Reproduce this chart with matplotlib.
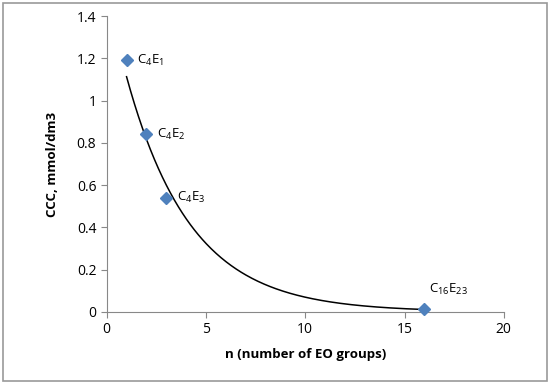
import numpy as np
import matplotlib
matplotlib.use("Agg")
import matplotlib.pyplot as plt
from matplotlib.patches import Rectangle

plt.rcParams['font.family'] = ['Open Sans', 'DejaVu Sans']
plt.rcParams['mathtext.default'] = 'regular'

# data
n_eo = [1, 2, 3, 16]
ccc = [1.19, 0.84, 0.54, 0.011]
labels = [r'C$_4$E$_1$', r'C$_4$E$_2$', r'C$_4$E$_3$', r'C$_{16}$E$_{23}$']

fig = plt.figure(figsize=(5.5, 3.84), dpi=100)
ax = fig.add_axes([0.194, 0.188, 0.722, 0.770])

# exponential trendline (Excel style) fitted on the points
k, b = np.polyfit(n_eo, np.log(ccc), 1)
xt = np.linspace(min(n_eo), max(n_eo), 300)
ax.plot(xt, np.exp(b + k * xt), color='black', lw=1.1, zorder=2)

ax.plot(n_eo, ccc, linestyle='none', marker='D', ms=6.2, color='#4F81BD',
        clip_on=False, zorder=3)

for i, (x, y, lab) in enumerate(zip(n_eo, ccc, labels)):
    if i == 3:
        ax.annotate(lab, (x, y), xytext=(3, 9), textcoords='offset points',
                    fontsize=9.5, va='bottom', ha='left')
    else:
        ax.annotate(lab, (x, y), xytext=(7.5, 0), textcoords='offset points',
                    fontsize=9.5, va='center', ha='left')

ax.set_xlim(0, 20)
ax.set_ylim(0, 1.4)
ax.set_xticks([0, 5, 10, 15, 20])
ax.set_yticks(np.arange(0, 1.41, 0.2))
ax.set_yticklabels(['0', '0.2', '0.4', '0.6', '0.8', '1', '1.2', '1.4'])

for s in ['top', 'right']:
    ax.spines[s].set_visible(False)
for s in ['left', 'bottom']:
    ax.spines[s].set_color('#888888')
ax.tick_params(colors='#888888', labelcolor='black', labelsize=10,
               direction='out', length=4)

ax.set_xlabel('n (number of EO groups)', fontsize=9.5, fontweight='bold', labelpad=8)
ax.set_ylabel('CCC, mmol/dm3', fontsize=9.5, fontweight='bold', labelpad=13)

fig.patches.append(Rectangle((0.005, 0.007), 0.99, 0.986, transform=fig.transFigure,
                             fill=False, edgecolor='#999999', lw=1.2))

fig.savefig('out.png', dpi=100)
